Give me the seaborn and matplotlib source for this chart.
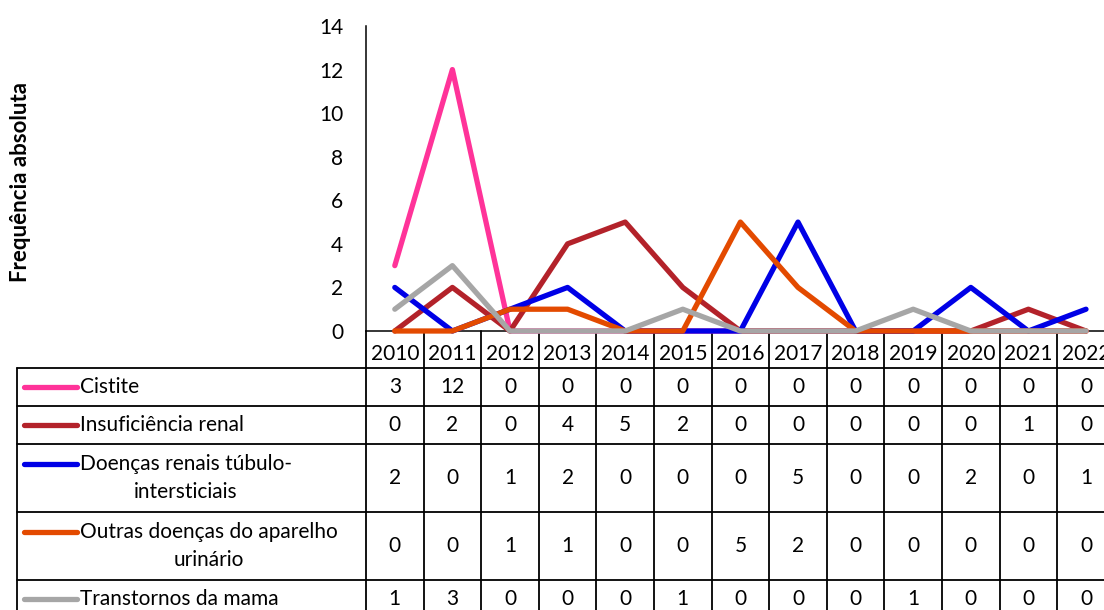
import numpy as np
import pandas as pd
import matplotlib
matplotlib.use("Agg")
import matplotlib.pyplot as plt
import seaborn as sns

# ---------------- data ----------------
years = [str(y) for y in range(2010, 2023)]
series_names = ["Cistite", "Insuficiência renal", "Doenças renais túbulo-intersticiais",
                "Outras doenças do aparelho urinário", "Transtornos da mama"]
legend_lines = [["Cistite"], ["Insuficiência renal"], ["Doenças renais túbulo-", "intersticiais"],
                ["Outras doenças do aparelho", "urinário"], ["Transtornos da mama"]]
cistite = [3, 12, 0, 0, 0, 0, 0, 0, 0, 0, 0, 0, 0]
insuficiencia = [0, 2, 0, 4, 5, 2, 0, 0, 0, 0, 0, 1, 0]
doencas_tubulo = [2, 0, 1, 2, 0, 0, 0, 5, 0, 0, 2, 0, 1]
outras_doencas = [0, 0, 1, 1, 0, 0, 5, 2, 0, 0, 0, 0, 0]
transtornos_mama = [1, 3, 0, 0, 0, 1, 0, 0, 0, 1, 0, 0, 0]
y_ticks = [0, 2, 4, 6, 8, 10, 12, 14]
y_label = "Frequência absoluta"
colors = ["#FF3399", "#B3222A", "#0000E6", "#E34A00", "#A6A6A6"]

values = [cistite, insuficiencia, doencas_tubulo, outras_doencas, transtornos_mama]
df = pd.DataFrame({
    "pos": np.tile(np.arange(len(years)), len(series_names)),
    "value": np.concatenate(values),
    "series": np.repeat(series_names, len(years)),
})

# ---------------- style ----------------
sns.set_theme(style="white")
plt.rcParams["font.family"] = ["Lato", "DejaVu Sans"]
FS = 15

W_PX, H_PX = 1104, 610
fig = plt.figure(figsize=(W_PX / 100, H_PX / 100), dpi=100)

# layout in pixels
x0 = 366.0          # y-axis position
colw = 57.6         # width of one year column
y_zero = 331.0
y_top = 26.0

ax = fig.add_axes([x0 / W_PX, (H_PX - y_zero) / H_PX, colw * len(years) / W_PX, (y_zero - y_top) / H_PX])
sns.lineplot(data=df, x="pos", y="value", hue="series", hue_order=series_names,
             palette=colors, linewidth=3.8, legend=False, ax=ax,
             solid_capstyle="round", solid_joinstyle="round", clip_on=False, zorder=3)
ax.set_xlim(-0.5, len(years) - 0.5)
ax.set_ylim(0, 14)
ax.set_yticks(y_ticks)
ax.set_yticklabels([str(t) for t in y_ticks], fontsize=FS, color="black")
ax.set_xticks([])
ax.set_xlabel("")
ax.set_ylabel("")
ax.tick_params(axis="y", length=0, pad=16.5)
for s in ["top", "right"]:
    ax.spines[s].set_visible(False)
for s in ["left", "bottom"]:
    ax.spines[s].set_color("black")
    ax.spines[s].set_linewidth(1.1)
ax.patch.set_alpha(0)

fig.text(21 / W_PX, 1 - 182 / H_PX, y_label, rotation=90, fontweight="bold",
         ha="center", va="center", fontsize=16, color="black")

# ---------------- data table (overlay in pixel coordinates) ----------------
ov = fig.add_axes([0, 0, 1, 1], zorder=-1)
ov.set_xlim(0, W_PX)
ov.set_ylim(H_PX, 0)
ov.axis("off")

row_edges = [368, 406, 444, 512, 580, 618]
legend_left = 17
tlw = 1.3

# header row: year labels
for i, yr in enumerate(years):
    ov.text(x0 + (i + 0.5) * colw, 354, yr, ha="center", va="center", fontsize=FS, color="black")
# vertical lines of year columns (from axis down)
for i in range(len(years) + 1):
    ov.plot([x0 + i * colw] * 2, [y_zero, row_edges[-1]], color="black", lw=tlw)
# legend column left border
ov.plot([legend_left] * 2, [row_edges[0], row_edges[-1]], color="black", lw=tlw)
# horizontal lines
for ye in row_edges:
    ov.plot([legend_left, x0 + len(years) * colw], [ye, ye], color="black", lw=tlw)

fig.canvas.draw()
renderer = fig.canvas.get_renderer()
line_gap = 29
for r, (name, vals) in enumerate(zip(series_names, values)):
    top, bot = row_edges[r], row_edges[r + 1]
    cy = (top + bot) / 2
    nlines = len(legend_lines[r])
    first_y = cy - (nlines - 1) * line_gap / 2
    # legend key
    ov.plot([24, 77], [first_y, first_y], color=colors[r], lw=3.8, solid_capstyle="round")
    t = ov.text(80, first_y, legend_lines[r][0], ha="left", va="center", fontsize=FS, color="black")
    if nlines > 1:
        bb = t.get_window_extent(renderer)
        center_x = 80 + bb.width / 2
        for k, ln in enumerate(legend_lines[r][1:], start=1):
            ov.text(center_x, first_y + k * line_gap, ln, ha="center", va="center",
                    fontsize=FS, color="black")
    for i, v in enumerate(vals):
        ov.text(x0 + (i + 0.5) * colw, cy, str(v), ha="center", va="center",
                fontsize=FS, color="black")

fig.savefig("out.png", dpi=100, facecolor="white")
